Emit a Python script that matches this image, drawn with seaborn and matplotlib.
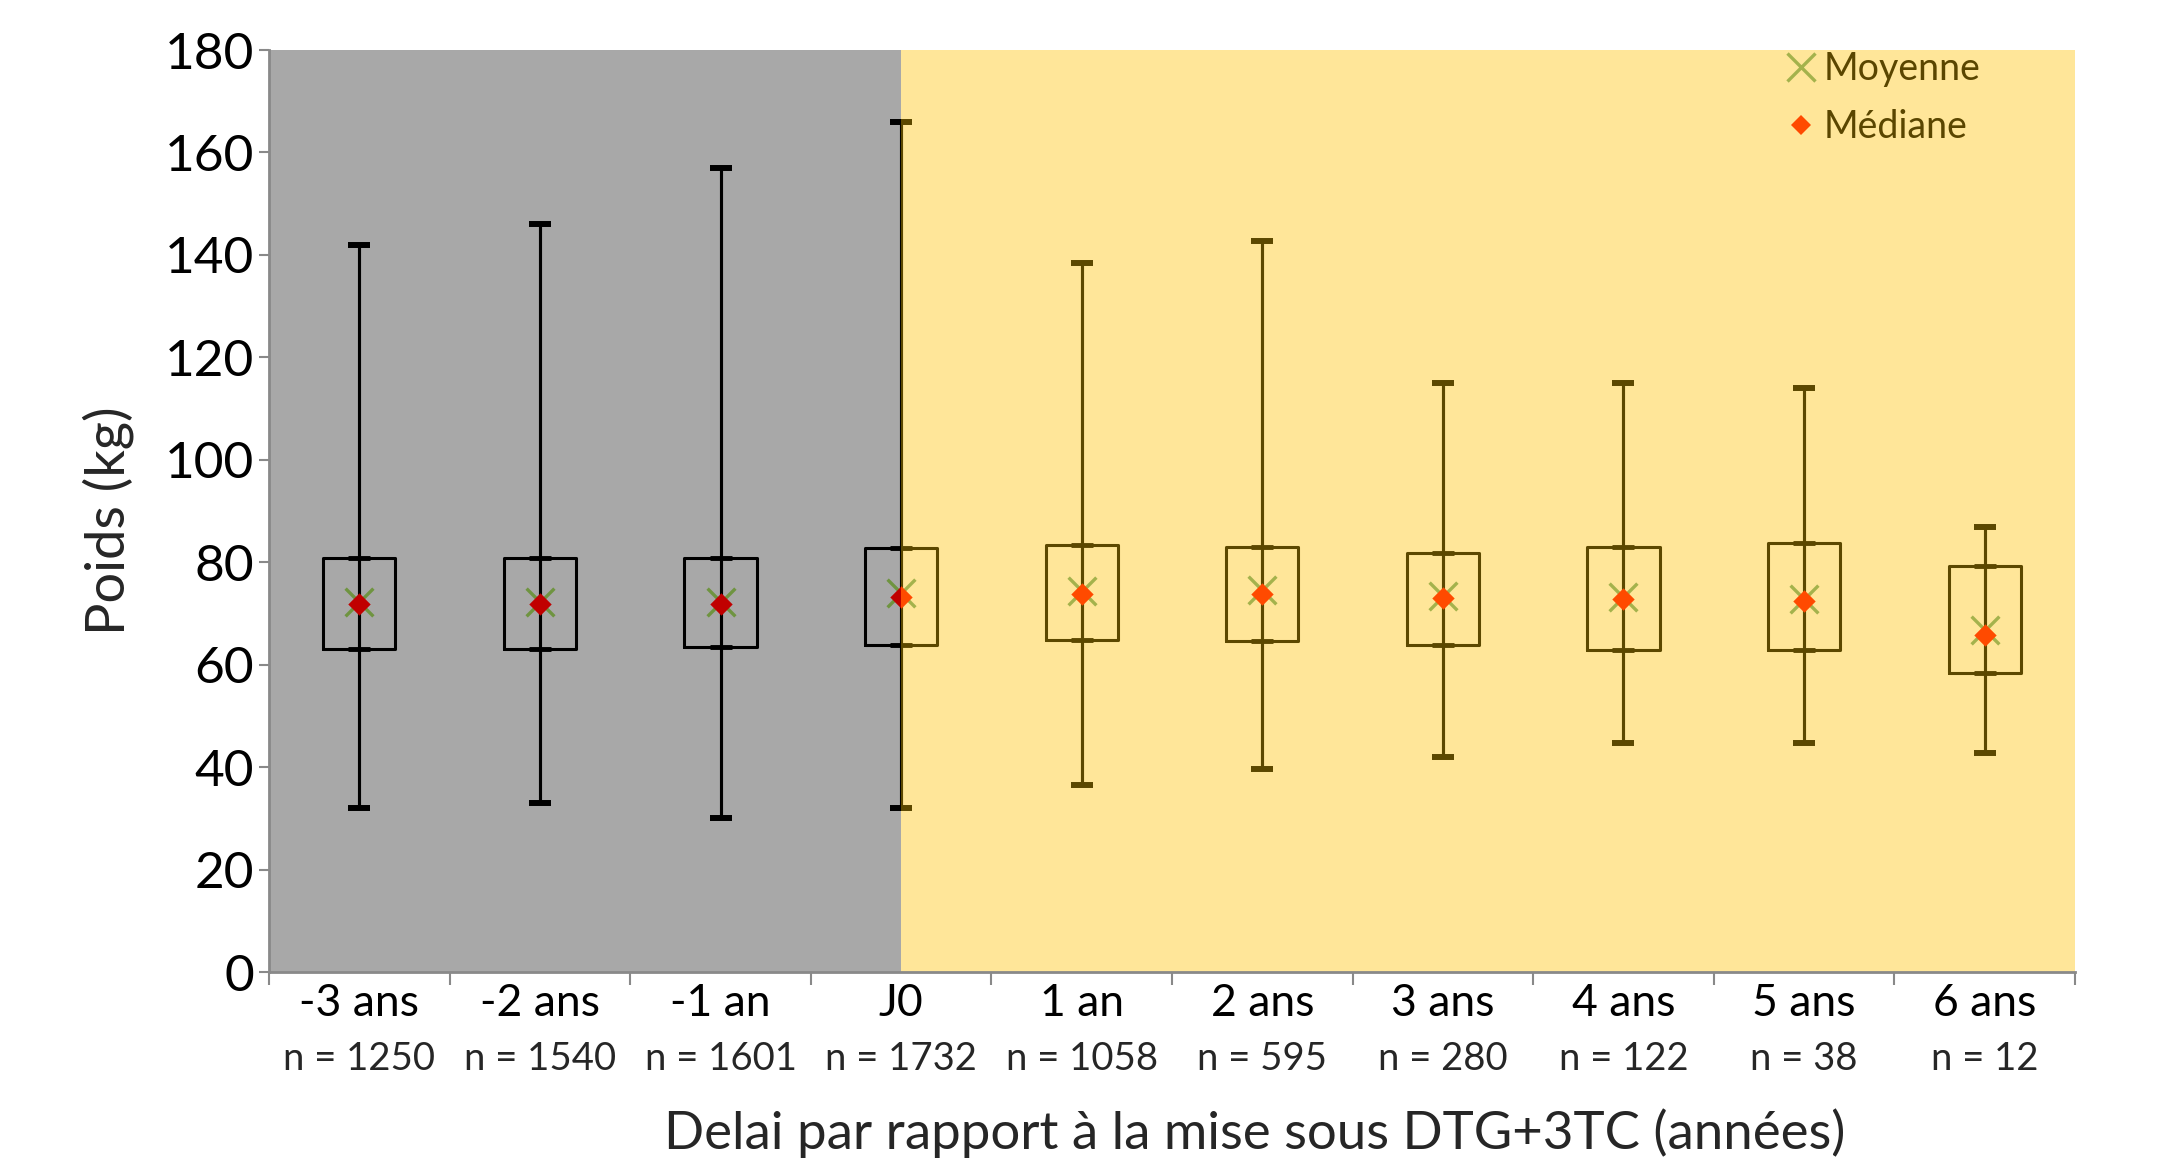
import numpy as np
import pandas as pd
import matplotlib.pyplot as plt
from matplotlib.lines import Line2D
import seaborn as sns

# =============================
# DATA
# =============================
categories = ["-3 ans", "-2 ans", "-1 an", "J0", "1 an", "2 ans", "3 ans", "4 ans", "5 ans", "6 ans"]
n_patients = [1250, 1540, 1601, 1732, 1058, 595, 280, 122, 38, 12]

poids_min = [32, 33, 30, 32, 36.5, 39.6, 41.9, 44.8, 44.8, 42.8]
poids_q1 = [63, 63, 63.5, 63.8, 64.8, 64.7, 63.8, 62.9, 62.9, 58.3]
poids_median = [71.8, 71.8, 71.8, 73.3, 73.8, 73.8, 73.1, 72.8, 72.4, 65.8]
poids_mean = [72.3, 72.3, 72.3, 74.0, 74.3, 74.6, 73.4, 73.2, 72.9, 66.8]
poids_q3 = [80.8, 80.8, 80.8, 82.8, 83.4, 83.0, 81.9, 83.0, 83.8, 79.3]
poids_max = [142, 146, 157, 166, 138.5, 142.8, 115, 115, 114, 86.8]

j0_index = 3  # start of treatment: background switches at J0

# =============================
# STYLE
# =============================
sns.set_style("white")
plt.rcParams['font.family'] = ['Lato', 'DejaVu Sans']

gray_bg = '#A8A8A8'
yellow_bg = '#FFE699'
axis_gray = '#898989'
olive = '#5C4800'

# long table: 5 points per category give exact quartiles / extremes
df = pd.DataFrame({
    'Delai': np.repeat(categories, 5),
    'Poids': np.column_stack([poids_min, poids_q1, poids_median, poids_q3, poids_max]).ravel(),
})

pos = np.arange(len(categories))
mn = np.array(poids_min)
q1 = np.array(poids_q1)
med = np.array(poids_median)
q3 = np.array(poids_q3)
mx = np.array(poids_max)

fig, ax = plt.subplots(figsize=(21.63, 11.63), dpi=100)
fig.subplots_adjust(left=0.1244, right=0.9593, bottom=0.1642, top=0.957)


def draw_layer(line_color, mean_color, median_color):
    before = set(ax.get_children())
    sns.boxplot(data=df, x='Delai', y='Poids', order=categories, fill=False,
                color=line_color, saturation=1, width=0.4, linewidth=2.2,
                whis=(0, 100), showfliers=False,
                medianprops={'visible': False}, capprops={'visible': False}, ax=ax)
    ax.errorbar(pos, med, yerr=[med - mn, mx - med], fmt='none', ecolor=line_color,
                elinewidth=2.2, capsize=8, capthick=4.3, zorder=3)
    ax.errorbar(pos, med, yerr=[med - q1, q3 - med], fmt='none', ecolor=line_color,
                elinewidth=2.2, capsize=8, capthick=3.5, zorder=3)
    sns.scatterplot(x=pos, y=poids_mean, marker='x', s=400, color=mean_color,
                    linewidth=2.4, zorder=4, ax=ax)
    sns.scatterplot(x=pos, y=poids_median, marker='D', s=130, color=median_color,
                    linewidth=0, zorder=5, ax=ax)
    return [a for a in ax.get_children() if a not in before]


layer_before = draw_layer('black', '#6F9440', '#C00000')
layer_after = draw_layer(olive, '#A4B24C', '#FF4A00')

# backgrounds (also used as clipping areas)
span_before = ax.axvspan(-0.5, j0_index, color=gray_bg, lw=0, zorder=0)
span_after = ax.axvspan(j0_index, len(categories) - 0.5, color=yellow_bg, lw=0, zorder=0)
for art in layer_before:
    art.set_clip_path(span_before)
for art in layer_after:
    art.set_clip_path(span_after)

# =============================
# AXES
# =============================
ax.set_xlim(-0.5, len(categories) - 0.5)
ax.set_ylim(0, 180)
ax.set_yticks(range(0, 181, 20))
ax.set_xticks(pos)
ax.set_xticklabels(categories)
ax.set_xticks(np.arange(len(categories) + 1) - 0.5, minor=True)
ax.set_xlabel('')
ax.set_ylabel('')

ax.tick_params(axis='y', left=True, length=7, width=1.5, color=axis_gray,
               labelsize=37, pad=4, labelcolor='black')
ax.tick_params(axis='x', which='major', bottom=False, length=0, labelsize=32, pad=8,
               labelcolor='black')
ax.tick_params(axis='x', which='minor', bottom=True, length=9, width=1.5, color=axis_gray)

for side in ['top', 'right']:
    ax.spines[side].set_visible(False)
for side in ['left', 'bottom']:
    ax.spines[side].set_color(axis_gray)
    ax.spines[side].set_linewidth(2)

for p, n in zip(pos, n_patients):
    ax.text(p, -0.094, f"n = {n}", transform=ax.get_xaxis_transform(),
            ha='center', va='center', fontsize=27.5)

fig.text(0.580, 0.026, "Delai par rapport à la mise sous DTG+3TC (années)",
         ha='center', va='center', fontsize=38)
fig.text(0.050, 0.552, "Poids (kg)", rotation=90, ha='center', va='center', fontsize=39)

# legend
handles = [
    Line2D([], [], ls='none', marker='x', ms=20, mew=2.4, color='#A4B24C'),
    Line2D([], [], ls='none', marker='D', ms=10, mew=0, color='#FF4A00'),
]
ax.legend(handles, ['Moyenne', 'Médiane'], loc='upper right', bbox_to_anchor=(0.962, 1.027),
          frameon=False, fontsize=27, labelcolor='#5A4600', handletextpad=0.1,
          labelspacing=0.58, borderpad=0.2, handlelength=1.0)

plt.savefig('out.png', dpi=100)
plt.close()
